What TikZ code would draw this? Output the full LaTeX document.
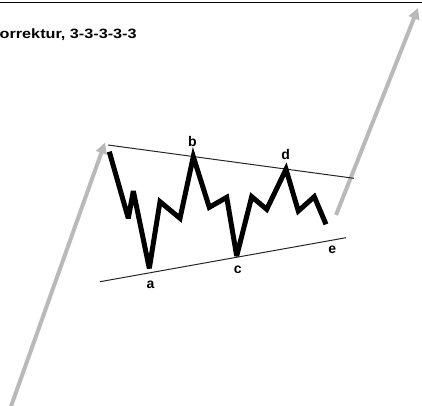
\documentclass[tikz,border=0pt]{standalone}
\usepackage{fontspec}
\setmainfont{Liberation Sans}
\usetikzlibrary{arrows.meta}
\begin{document}
\begin{tikzpicture}[x=1pt,y=-1pt,
  wave/.style={line width=5pt,black,line join=miter,miter limit=4},
  trend/.style={line width=1pt,black!85},
  trendarrow/.style={line width=4pt,gray!55,-{Triangle[length=11pt,width=11pt]}},
  lbl/.style={font=\bfseries\fontsize{14}{16}\selectfont,inner sep=0pt},
  title/.style={font=\bfseries\fontsize{13.5}{15}\selectfont,inner sep=0pt,anchor=west,xscale=1.2}]
\useasboundingbox (0,0) rectangle (422,405);
\clip (0,0) rectangle (422,405);
\coordinate (tl) at (0,2.5);
\coordinate (tr) at (422,2.5);
\draw[line width=1.5pt] (tl) -- (tr);
\node[title] (t) at (-0.5,34.5) {orrektur, 3-3-3-3-3};
% gray trend arrows
\coordinate (l0) at (9,412);
\coordinate (l1) at (105,142.5);
\coordinate (r0) at (336,215);
\coordinate (r1) at (418,8);
\draw[trendarrow] (l0) -- (l1);
\draw[trendarrow] (r0) -- (r1);
% trend lines
\coordinate (u0) at (108,145);
\coordinate (u1) at (354,178.3);
\coordinate (d0) at (100,281.7);
\coordinate (d1) at (346,237.7);
\draw[trend] (u0) -- (u1);
\draw[trend] (d0) -- (d1);
% wave
\coordinate (w0) at (109.3,151.7);
\coordinate (w1) at (128.3,218.3);
\coordinate (w2) at (133.3,191);
\coordinate (pa) at (149.3,268.3);
\coordinate (w4) at (160,201.7);
\coordinate (w5) at (180,218.3);
\coordinate (pb) at (193.3,156.7);
\coordinate (w7) at (209.3,207.3);
\coordinate (w8) at (226.7,197.3);
\coordinate (pc) at (236.7,256);
\coordinate (w10) at (251.7,196.7);
\coordinate (w11) at (266.7,209.3);
\coordinate (pd) at (286,169.3);
\coordinate (w13) at (298.3,211);
\coordinate (w14) at (314.3,196.7);
\coordinate (pe) at (326,224.3);
\draw[wave] (w0) -- (w1) -- (w2) -- (pa) -- (w4) -- (w5) -- (pb) -- (w7) -- (w8) -- (pc) -- (w10) -- (w11) -- (pd) -- (w13) -- (w14) -- (pe);
% labels
\node[lbl] (la) at (150.5,285) {a};
\node[lbl] (lb) at (192.5,141.5) {b};
\node[lbl] (lc) at (237.7,270) {c};
\node[lbl] (ld) at (285.7,154.5) {d};
\node[lbl] (le) at (332.3,249.5) {e};
\end{tikzpicture}
\end{document}
